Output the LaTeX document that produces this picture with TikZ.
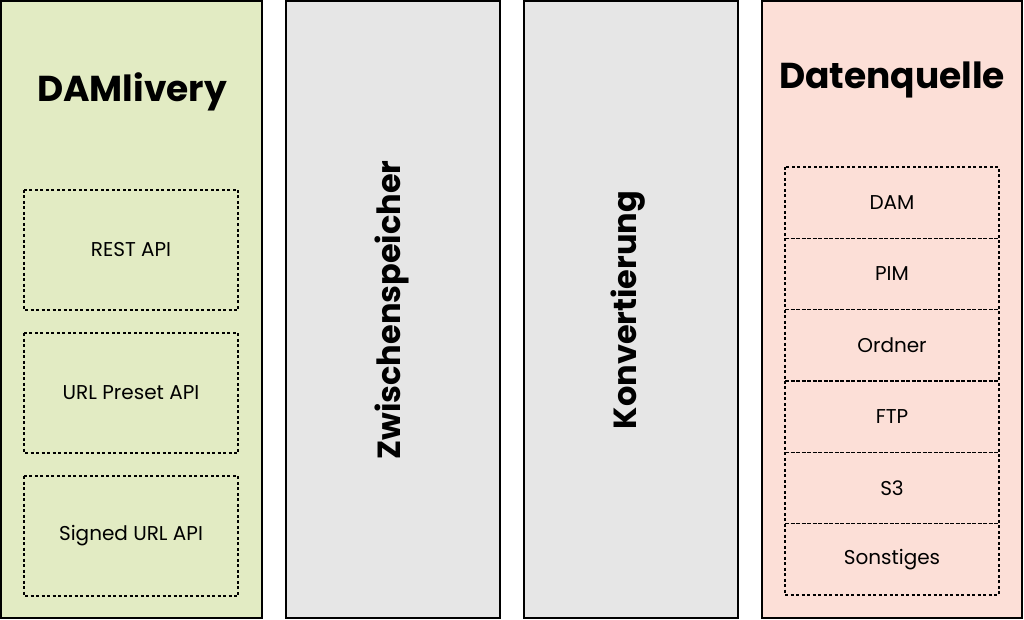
\documentclass[tikz,border=0pt]{standalone}
\usepackage{fontspec}
\setmainfont{Poppins}
\definecolor{gr}{HTML}{E2EBC3}
\definecolor{rd}{HTML}{FCDFD7}
\definecolor{gy}{HTML}{E6E6E6}
\begin{document}
\begin{tikzpicture}[x=1pt,y=-1pt,
 col/.style={draw=black,line width=1.4pt},
 dbox/.style={draw=black,line width=1.4pt,dash pattern=on 3pt off 2.5pt},
 small/.style={font=\fontsize{20}{24}\selectfont},
 big/.style={font=\fontsize{36}{40}\selectfont\bfseries},
 rot/.style={font=\fontsize{32}{36}\selectfont\bfseries,rotate=90}]
\useasboundingbox (0,0) rectangle (1024,620);
\draw[col,fill=gr] (1,1) rectangle (262,618);
\draw[col,fill=gy] (286,1) rectangle (500,618);
\draw[col,fill=gy] (524,1) rectangle (738,618);
\draw[col,fill=rd] (762,1) rectangle (1022,618);
\node[big] (t1) at (132,92) {DAMlivery};
\node[big] (t4) at (892,80) {Datenquelle};
\node[rot] (z) at (392,310) {Zwischenspeicher};
\node[rot] (k) at (628,310) {Konvertierung};
\draw[dbox] (24,190) rectangle (238,310); \node[small] (a1) at (131,250) {REST API};
\draw[dbox] (24,333) rectangle (238,453); \node[small] (a2) at (131,393) {URL Preset API};
\draw[dbox] (24,476) rectangle (238,596); \node[small] (a3) at (131,536) {Signed URL API};
\foreach \t [count=\i] in {DAM,PIM,Ordner,FTP,S3,Sonstiges}{
  \pgfmathsetmacro\ya{167+(\i-1)*71.33}
  \pgfmathsetmacro\yb{167+\i*71.33}
  \draw[dbox] (785,\ya) rectangle (999,\yb);
  \node[small] (b\i) at (892,{(\ya+\yb)/2}) {\t};
}
\end{tikzpicture}
\end{document}
